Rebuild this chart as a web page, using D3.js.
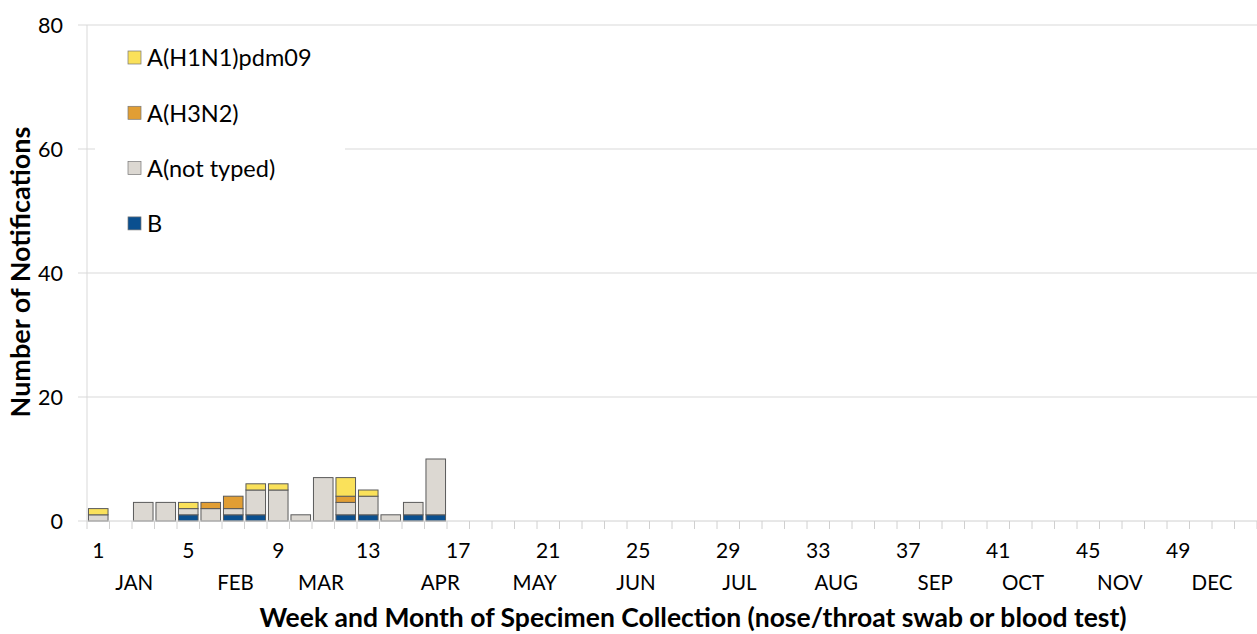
<!DOCTYPE html>
<html>
<head>
<meta charset="utf-8">
<script src="https://cdn.jsdelivr.net/npm/d3@7"></script>
<style>
  body { margin: 0; background: #fff; }
  text { font-family: Lato, "Open Sans", sans-serif; fill: #000; }
</style>
</head>
<body>
<div id="chart"></div>
<script>
// weeks with notifications (1..16); remaining weeks of the year have none
const weeks = d3.range(1, 53);
const h1n1 = [1, 0, 0, 0, 1, 0, 0, 1, 1, 0, 0, 3, 1, 0, 0, 0];
const h3n2 = [0, 0, 0, 0, 0, 1, 2, 0, 0, 0, 0, 1, 0, 0, 0, 0];
const notTyped = [1, 0, 3, 3, 1, 2, 1, 4, 5, 1, 7, 2, 3, 1, 2, 9];
const fluB = [0, 0, 0, 0, 1, 0, 1, 1, 0, 0, 0, 1, 1, 0, 1, 1];

const seriesNames = ["B", "A(not typed)", "A(H3N2)", "A(H1N1)pdm09"];
const seriesColors = ["#0a4f8f", "#dcd8d2", "#e19e34", "#fae15a"];
const legendOrder = ["A(H1N1)pdm09", "A(H3N2)", "A(not typed)", "B"];

const weekTicks = [1, 5, 9, 13, 17, 21, 25, 29, 33, 37, 41, 45, 49];
const months = ["JAN", "FEB", "MAR", "APR", "MAY", "JUN", "JUL", "AUG", "SEP", "OCT", "NOV", "DEC"];
const monthWeeks = [2.6, 7.1, 10.9, 16.2, 20.4, 24.9, 29.5, 33.8, 38.2, 42.1, 46.4, 50.5];
const yTicks = [0, 20, 40, 60, 80];

const width = 1257, height = 634;
const margin = { top: 25, right: 0, bottom: 113, left: 87 };
const plotW = width - margin.left - margin.right;
const plotH = height - margin.top - margin.bottom;

const svg = d3.select("#chart").append("svg")
    .attr("width", width)
    .attr("height", height);

const g = svg.append("g")
    .attr("transform", `translate(${margin.left},${margin.top})`);

const x = d3.scaleBand()
    .domain(weeks)
    .range([0, plotW])
    .paddingInner(0.13)
    .paddingOuter(0.065);

const xLin = d3.scaleLinear()
    .domain([0.5, 52.5])
    .range([0, plotW]);

const y = d3.scaleLinear()
    .domain([0, 80])
    .range([plotH, 0]);

const color = d3.scaleOrdinal().domain(seriesNames).range(seriesColors);

// gridlines
g.selectAll(".grid")
    .data(yTicks.filter(d => d > 0))
    .enter().append("line")
    .attr("x1", -9)
    .attr("x2", plotW)
    .attr("y1", d => y(d))
    .attr("y2", d => y(d))
    .attr("stroke", "#d9d9d9")
    .attr("stroke-width", 1);

// y tick labels
g.selectAll(".ylab")
    .data(yTicks)
    .enter().append("text")
    .attr("x", -24)
    .attr("y", d => y(d))
    .attr("dy", "0.35em")
    .attr("text-anchor", "end")
    .style("font-size", "21.5px")
    .text(d => d);

g.append("line")
    .attr("x1", -9).attr("x2", 0)
    .attr("y1", y(0)).attr("y2", y(0))
    .attr("stroke", "#d9d9d9");

// legend background (hides the gridline behind it)
g.append("rect")
    .attr("x", 8)
    .attr("y", 8)
    .attr("width", 250)
    .attr("height", 222)
    .attr("fill", "#fff");

// stacked bars
const rows = weeks.slice(0, notTyped.length).map((w, i) => ({
    week: w,
    "B": fluB[i],
    "A(not typed)": notTyped[i],
    "A(H3N2)": h3n2[i],
    "A(H1N1)pdm09": h1n1[i]
}));

const stacked = d3.stack().keys(seriesNames)(rows);

g.selectAll(".series")
    .data(stacked)
    .enter().append("g")
    .attr("fill", d => color(d.key))
    .selectAll("rect")
    .data(d => d.filter(p => p[1] > p[0]))
    .enter().append("rect")
    .attr("x", d => x(d.data.week))
    .attr("y", d => y(d[1]))
    .attr("width", x.bandwidth())
    .attr("height", d => y(d[0]) - y(d[1]))
    .attr("stroke", "#5a5a5a")
    .attr("stroke-width", 1);

// axes lines
g.append("line")
    .attr("x1", 0).attr("x2", 0)
    .attr("y1", 0).attr("y2", plotH)
    .attr("stroke", "#d9d9d9");

g.append("line")
    .attr("x1", 0).attr("x2", plotW)
    .attr("y1", plotH).attr("y2", plotH)
    .attr("stroke", "#d0d0d0");

g.selectAll(".xtick")
    .data(d3.range(0.5, 53, 1))
    .enter().append("line")
    .attr("x1", d => xLin(d))
    .attr("x2", d => xLin(d))
    .attr("y1", plotH)
    .attr("y2", plotH + 8)
    .attr("stroke", "#d0d0d0");

g.selectAll(".wlab")
    .data(weekTicks)
    .enter().append("text")
    .attr("x", d => x(d) + x.bandwidth() / 2)
    .attr("y", plotH + 37)
    .attr("text-anchor", "middle")
    .style("font-size", "21px")
    .text(d => d);

g.selectAll(".mlab")
    .data(months)
    .enter().append("text")
    .attr("x", (d, i) => xLin(monthWeeks[i]))
    .attr("y", plotH + 69)
    .attr("text-anchor", "middle")
    .style("font-size", "20.5px")
    .text(d => d);

// legend
const legend = g.selectAll(".legend")
    .data(legendOrder)
    .enter().append("g")
    .attr("transform", (d, i) => `translate(41,${33 + i * 55.3})`);

legend.append("rect")
    .attr("x", 0)
    .attr("y", -7)
    .attr("width", 13)
    .attr("height", 13)
    .attr("fill", d => color(d))
    .attr("stroke", "#777")
    .attr("stroke-width", 0.7);

legend.append("text")
    .attr("x", 19)
    .attr("y", 0)
    .attr("dy", "0.35em")
    .style("font-size", "23.5px")
    .text(d => d);

// axis titles
svg.append("text")
    .attr("transform", `translate(30,272) rotate(-90)`)
    .attr("text-anchor", "middle")
    .style("font-size", "27px")
    .style("font-weight", "bold")
    .text("Number of Notifications");

svg.append("text")
    .attr("x", 693)
    .attr("y", 627)
    .attr("text-anchor", "middle")
    .style("font-size", "26.5px")
    .style("font-weight", "bold")
    .text("Week and Month of Specimen Collection (nose/throat swab or blood test)");
</script>
</body>
</html>
